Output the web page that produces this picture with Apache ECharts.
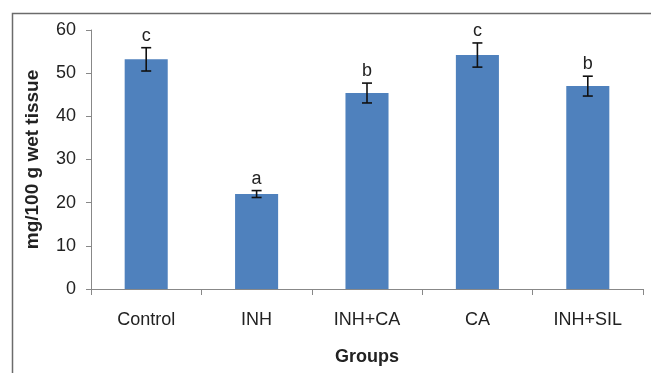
<!DOCTYPE html>
<html>
<head>
<meta charset="utf-8">
<script src="https://cdn.jsdelivr.net/npm/echarts@6/dist/echarts.min.js"></script>
<style>
  html, body { margin: 0; padding: 0; background: #fff; }
  #main { width: 651px; height: 373px; }
</style>
</head>
<body>
<div id="main"></div>
<script>
var categories = ['Control', 'INH', 'INH+CA', 'CA', 'INH+SIL'];
var means = [53.2, 22.0, 45.4, 54.2, 47.0];
var errors = [2.7, 0.8, 2.3, 2.8, 2.3];
var letters = ['c', 'a', 'b', 'c', 'b'];
var yTicks = [0, 10, 20, 30, 40, 50, 60];

var chartDom = document.getElementById('main');
var myChart = echarts.init(chartDom);

var errData = means.map(function (m, i) {
  return [i, m - errors[i], m + errors[i]];
});

var option = {
  backgroundColor: '#FFF',
  animation: false,
  graphic: [{
    type: 'rect',
    left: 10,
    top: 11,
    shape: { width: 700, height: 420 },
    style: { fill: 'none', stroke: '#6b6b6b', lineWidth: 1.5 },
    silent: true
  }],
  grid: { left: 91, right: 8, top: 30, bottom: 84 },
  xAxis: {
    type: 'category',
    data: categories,
    name: 'Groups',
    nameLocation: 'middle',
    nameGap: 59,
    nameTextStyle: { fontFamily: 'Liberation Sans', fontWeight: 'bold', fontSize: 18, color: '#222' },
    axisLine: { lineStyle: { color: '#888', width: 1 } },
    axisTick: { show: true, length: 6, alignWithLabel: false, lineStyle: { color: '#888' } },
    axisLabel: { fontFamily: 'Liberation Sans', fontSize: 18, color: '#222', margin: 22 }
  },
  yAxis: {
    type: 'value',
    min: yTicks[0],
    max: yTicks[yTicks.length - 1],
    interval: 10,
    name: 'mg/100 g wet tissue',
    nameLocation: 'middle',
    nameGap: 49,
    nameTextStyle: { fontFamily: 'Liberation Sans', fontWeight: 'bold', fontSize: 19, color: '#222' },
    splitLine: { show: false },
    axisLine: { show: true, lineStyle: { color: '#888', width: 1 } },
    axisTick: { show: true, length: 5, lineStyle: { color: '#888' } },
    axisLabel: { fontFamily: 'Liberation Sans', fontSize: 18, color: '#222', margin: 15 }
  },
  series: [
    {
      type: 'bar',
      data: means,
      barWidth: '39%',
      itemStyle: { color: '#4F81BD' }
    },
    {
      type: 'custom',
      data: errData,
      z: 10,
      renderItem: function (params, api) {
        var i = api.value(0);
        var lo = api.coord([i, api.value(1)]);
        var hi = api.coord([i, api.value(2)]);
        var hw = 5;
        var st = { stroke: '#111', lineWidth: 1.6 };
        return {
          type: 'group',
          children: [
            { type: 'line', shape: { x1: hi[0], y1: hi[1], x2: lo[0], y2: lo[1] }, style: st },
            { type: 'line', shape: { x1: hi[0] - hw, y1: hi[1], x2: hi[0] + hw, y2: hi[1] }, style: st },
            { type: 'line', shape: { x1: lo[0] - hw, y1: lo[1], x2: lo[0] + hw, y2: lo[1] }, style: st },
            {
              type: 'text',
              x: hi[0],
              y: hi[1] - 3,
              style: {
                text: letters[params.dataIndex],
                fontFamily: 'Liberation Sans',
                fontSize: 18,
                fill: '#222',
                align: 'center',
                verticalAlign: 'bottom'
              }
            }
          ]
        };
      }
    }
  ]
};
option && myChart.setOption(option);
</script>
</body>
</html>
